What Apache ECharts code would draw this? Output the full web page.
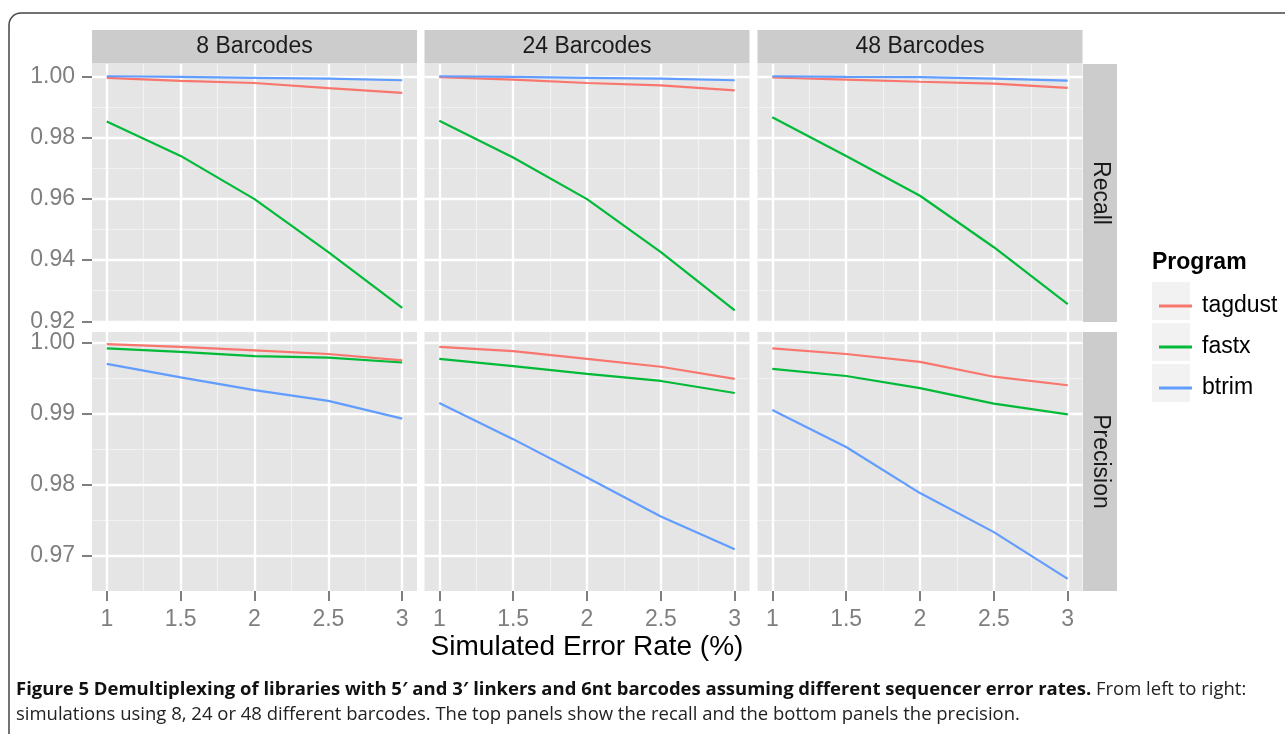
<!DOCTYPE html>
<html>
<head>
<meta charset="utf-8">
<script src="https://cdn.jsdelivr.net/npm/echarts@6/dist/echarts.min.js"></script>
<style>
html, body { margin: 0; padding: 0; background: #fff; }
#chart { width: 1285px; height: 734px; }
</style>
</head>
<body>
<div id="chart"></div>
<script>
// x values and labels
var errorRates = [1, 1.5, 2, 2.5, 3];
var xTicks = [1, 1.5, 2, 2.5, 3];
var xMinor = [1.25, 1.75, 2.25, 2.75];
var recallTicks = [0.92, 0.94, 0.96, 0.98, 1.00];
var recallMinor = [0.93, 0.95, 0.97, 0.99];
var precTicks = [0.97, 0.98, 0.99, 1.00];
var precMinor = [0.975, 0.985, 0.995];

var programs = ['tagdust', 'fastx', 'btrim'];
var panels = ['8 Barcodes', '24 Barcodes', '48 Barcodes'];
var metrics = ['Recall', 'Precision'];

// recall
var recallTagdust8 = [0.9995, 0.9985, 0.9978, 0.9961, 0.9946];
var recallFastx8 = [0.9852, 0.9740, 0.9599, 0.9426, 0.9244];
var recallBtrim8 = [1.0000, 0.9998, 0.9995, 0.9992, 0.9987];
var recallTagdust24 = [0.9997, 0.9989, 0.9978, 0.9970, 0.9954];
var recallFastx24 = [0.9855, 0.9735, 0.9599, 0.9426, 0.9236];
var recallBtrim24 = [1.0000, 0.9998, 0.9995, 0.9992, 0.9987];
var recallTagdust48 = [0.9996, 0.9989, 0.9982, 0.9976, 0.9962];
var recallFastx48 = [0.9866, 0.9740, 0.9610, 0.9442, 0.9256];
var recallBtrim48 = [1.0000, 0.9998, 0.9997, 0.9992, 0.9986];

// precision
var precTagdust8 = [0.9998, 0.9994, 0.9989, 0.9984, 0.9975];
var precFastx8 = [0.9992, 0.9987, 0.9981, 0.9979, 0.9972];
var precBtrim8 = [0.9970, 0.9951, 0.9933, 0.9918, 0.9893];
var precTagdust24 = [0.9994, 0.9988, 0.9977, 0.9966, 0.9949];
var precFastx24 = [0.9977, 0.9967, 0.9956, 0.9946, 0.9929];
var precBtrim24 = [0.9915, 0.9864, 0.9810, 0.9755, 0.9709];
var precTagdust48 = [0.9992, 0.9984, 0.9973, 0.9952, 0.9940];
var precFastx48 = [0.9963, 0.9953, 0.9936, 0.9914, 0.9899];
var precBtrim48 = [0.9905, 0.9853, 0.9788, 0.9733, 0.9667];

// [row][col][program]
var table = [
    [[recallTagdust8, recallFastx8, recallBtrim8],
     [recallTagdust24, recallFastx24, recallBtrim24],
     [recallTagdust48, recallFastx48, recallBtrim48]],
    [[precTagdust8, precFastx8, precBtrim8],
     [precTagdust24, precFastx24, precBtrim24],
     [precTagdust48, precFastx48, precBtrim48]]
];

var colors = ['#F8766D', '#00BA38', '#619CFF'];
var FONT = '"Liberation Sans", Arial, sans-serif';
var CAP_FONT = '"Open Sans", "Noto Sans", sans-serif';

var colLeft = [92, 424.5, 757.5];
var colWidth = 325;
var rowTop = [64, 332];
var rowHeight = [258, 259];
var yRange = [[0.9198, 1.0040], [0.9650, 1.0015]];
var yMajor = [recallTicks, precTicks];
var yMinorVals = [recallMinor, precMinor];

var grids = [], xAxes = [], yAxes = [], series = [];
var minorX = [], minorY = [];

for (var r = 0; r < 2; r++) {
    for (var c = 0; c < 3; c++) {
        var g = r * 3 + c;
        grids.push({
            left: colLeft[c], top: rowTop[r], width: colWidth, height: rowHeight[r],
            show: true, backgroundColor: '#E5E5E5', borderWidth: 0, containLabel: false
        });
        var bottom = r === 1;
        var first = c === 0;
        xAxes.push({
            type: 'value', gridIndex: g, min: 0.9, max: 3.1, z: 2,
            axisLine: { show: false },
            axisTick: { show: bottom, customValues: xTicks, length: 10, lineStyle: { color: '#7F7F7F', width: 2 } },
            axisLabel: { show: bottom, customValues: xTicks, margin: 17, fontSize: 23, color: '#7F7F7F', fontFamily: FONT },
            splitLine: { show: true, lineStyle: { color: '#FFFFFF', width: 2.4 } }
        });
        minorX.push({
            type: 'value', gridIndex: g, min: 0.9, max: 3.1, z: 1, position: 'bottom',
            axisLine: { show: false },
            axisTick: { show: false, customValues: xMinor },
            axisLabel: { show: false, customValues: xMinor },
            splitLine: { show: true, lineStyle: { color: '#F2F2F2', width: 1.2 } }
        });
        yAxes.push({
            type: 'value', gridIndex: g, min: yRange[r][0], max: yRange[r][1], z: 2,
            axisLine: { show: false },
            axisTick: { show: first, customValues: yMajor[r], length: 10, lineStyle: { color: '#7F7F7F', width: 2 } },
            axisLabel: {
                show: first, customValues: yMajor[r], margin: 17, fontSize: 23, color: '#7F7F7F', fontFamily: FONT,
                formatter: function (v) { return Number(v).toFixed(2); }
            },
            splitLine: { show: true, lineStyle: { color: '#FFFFFF', width: 2.4 } }
        });
        minorY.push({
            type: 'value', gridIndex: g, min: yRange[r][0], max: yRange[r][1], z: 1, position: 'left',
            axisLine: { show: false },
            axisTick: { show: false, customValues: yMinorVals[r] },
            axisLabel: { show: false, customValues: yMinorVals[r] },
            splitLine: { show: true, lineStyle: { color: '#F2F2F2', width: 1.2 } }
        });
        for (var p = 0; p < 3; p++) {
            var vals = table[r][c][p];
            series.push({
                name: programs[p], type: 'line', xAxisIndex: g, yAxisIndex: g,
                symbol: 'none', z: 3 + p,
                lineStyle: { color: colors[p], width: 2.2 },
                itemStyle: { color: colors[p] },
                data: errorRates.map(function (x, i) { return [x, vals[i]]; })
            });
        }
    }
}

// caption sizing
var capBold = 'Figure 5 Demultiplexing of libraries with 5\u2032 and 3\u2032 linkers and 6nt barcodes assuming different sequencer error rates.';
var capRest = ' From left to right:';
var capLine2 = 'simulations using 8, 24 or 48 different barcodes. The top panels show the recall and the bottom panels the precision.';
var ctx = document.createElement('canvas').getContext('2d');
ctx.font = 'bold 100px ' + CAP_FONT;
var wb = ctx.measureText(capBold).width;
ctx.font = '100px ' + CAP_FONT;
var wn = ctx.measureText(capRest).width;
var capSize = 100 * 1231 / (wb + wn);

var graphics = [];
// frame
graphics.push({ type: 'rect', shape: { x: 9, y: 13, width: 1400, height: 900, r: [12, 0, 0, 0] },
    style: { fill: 'none', stroke: '#444', lineWidth: 1.5 }, silent: true });
// top strips
for (var c2 = 0; c2 < 3; c2++) {
    graphics.push({ type: 'rect', shape: { x: colLeft[c2], y: 30, width: colWidth, height: 33.5 }, style: { fill: '#CCCCCC' } });
    graphics.push({ type: 'text', x: colLeft[c2] + colWidth / 2, y: 47,
        style: { text: panels[c2], fontSize: 23, fontFamily: FONT, fill: '#1A1A1A', align: 'center', verticalAlign: 'middle' } });
}
// right strips
for (var r2 = 0; r2 < 2; r2++) {
    graphics.push({ type: 'rect', shape: { x: 1083, y: rowTop[r2], width: 34, height: rowHeight[r2] }, style: { fill: '#CCCCCC' } });
    graphics.push({ type: 'text', x: 1100, y: rowTop[r2] + rowHeight[r2] / 2, rotation: -Math.PI / 2,
        style: { text: metrics[r2], fontSize: 23, fontFamily: FONT, fill: '#1A1A1A', align: 'center', verticalAlign: 'middle' } });
}
// legend title and key backgrounds
graphics.push({ type: 'text', x: 1152, y: 263,
    style: { text: 'Program', fontSize: 23, fontWeight: 'bold', fontFamily: FONT, fill: '#000', verticalAlign: 'middle' } });
for (var k = 0; k < 3; k++) {
    graphics.push({ type: 'rect', z: -1, shape: { x: 1152, y: 282 + k * 41, width: 38, height: 38 }, style: { fill: '#F2F2F2' } });
}
// axis title
graphics.push({ type: 'text', x: 587, y: 647,
    style: { text: 'Simulated Error Rate (%)', fontSize: 28, fontFamily: FONT, fill: '#000', align: 'center', verticalAlign: 'middle' } });
// caption
graphics.push({ type: 'text', x: 16, y: 690,
    style: {
        text: '{b|' + capBold + '}{n|' + capRest + '}',
        verticalAlign: 'middle',
        rich: {
            b: { fontSize: capSize, fontWeight: 'bold', fontFamily: CAP_FONT, fill: '#111' },
            n: { fontSize: capSize, fontFamily: CAP_FONT, fill: '#222' }
        }
    } });
graphics.push({ type: 'text', x: 16, y: 715,
    style: { text: capLine2, fontSize: capSize, fontFamily: CAP_FONT, fill: '#222', verticalAlign: 'middle' } });

var chart = echarts.init(document.getElementById('chart'));
chart.setOption({
    animation: false,
    backgroundColor: '#FFFFFF',
    grid: grids,
    xAxis: xAxes.concat(minorX),
    yAxis: yAxes.concat(minorY),
    legend: {
        orient: 'vertical', left: 1154, top: 282,
        data: programs, icon: 'rect', itemWidth: 33, itemHeight: 3, itemGap: 3,
        selectedMode: false,
        textStyle: { fontSize: 23, fontFamily: FONT, color: '#000', lineHeight: 38, padding: [0, 0, 0, 5] }
    },
    graphic: graphics,
    series: series
});
</script>
</body>
</html>
